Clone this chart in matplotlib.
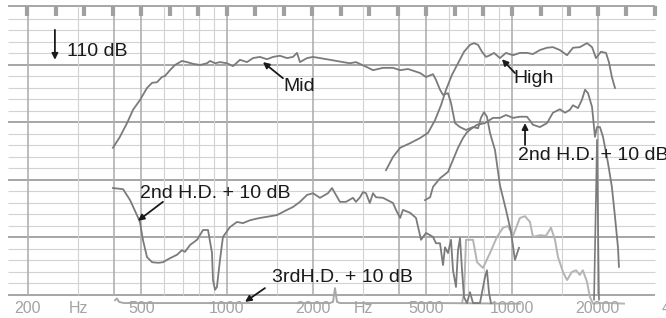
import numpy as np
import matplotlib.pyplot as plt

plt.rcParams['font.family'] = ['Liberation Sans', 'DejaVu Sans']

# --- response curves (Hz, dB) ---
mid_hz = [398, 421, 446, 468, 495, 524, 546, 568, 591, 606, 631, 657, 695, 724, 760,
          804, 851, 872, 908, 945, 1000, 1050, 1111, 1175, 1234, 1305, 1382, 1450, 1534,
          1624, 1704, 1761, 1803, 1909, 2003, 2119, 2297, 2553, 2699, 2835, 3074, 3253,
          3526, 3823, 4050, 4316, 4760, 4993, 5283, 5412, 5590, 5727, 5963, 6109, 6310,
          6570, 6897, 7298, 7602, 7780, 7975, 8168, 8370, 8716, 9070, 9526, 9919, 10240, 10580]
mid_db = [95.6, 97.5, 99.9, 102.2, 103.9, 106.0, 106.9, 107.0, 107.9, 108.1, 109.1, 110.0,
          110.7, 110.5, 110.2, 110.0, 110.3, 110.7, 110.3, 110.5, 110.3, 109.8, 110.9, 110.5,
          111.2, 111.4, 111.0, 111.4, 111.6, 111.2, 111.4, 112.1, 110.5, 111.2, 111.4, 111.2,
          110.9, 110.5, 110.3, 110.5, 109.7, 109.1, 109.5, 109.5, 109.1, 109.3, 108.6, 107.9,
          108.4, 107.4, 105.7, 104.8, 105.1, 103.4, 99.9, 99.2, 98.7, 99.2, 99.0, 100.8,
          101.8, 101.0, 98.2, 95.2, 89.1, 84.8, 81.0, 76.1, 78.2]

high_hz = [3613, 3823, 4050, 4390, 4760, 5074, 5369, 5635, 5870, 6158, 6465, 6787, 7120,
           7357, 7602, 7846, 8103, 8370, 8646, 9070, 9526, 10080, 10660, 11290, 11850, 12530,
           13270, 13920, 14720, 15600, 16370, 17300, 18330, 19090, 19550, 19700, 20520, 21370,
           21880, 22410, 22980]
high_db = [91.7, 94.0, 95.6, 96.4, 97.3, 98.2, 100.4, 103.0, 105.7, 108.3, 110.3, 112.3,
           113.5, 113.8, 113.5, 112.3, 111.4, 111.7, 112.1, 111.2, 112.1, 111.7, 112.1, 112.1,
           111.9, 112.6, 113.0, 113.1, 112.6, 111.7, 113.0, 113.1, 113.8, 113.1, 111.7, 111.2,
           112.3, 112.1, 110.5, 107.9, 106.0]

# 2nd harmonic distortion + 10 dB, mid driver
hd2_mid_hz = [398, 432, 457, 483, 495, 507, 524, 546, 573, 596, 631, 668, 695, 712, 742, 785,
              824, 858, 886, 893, 908, 922, 945, 968, 1024, 1084, 1138, 1204, 1305, 1382, 1498,
              1624, 1704, 1803, 1909, 2003, 2119, 2261, 2336, 2490, 2616, 2767, 2835, 2929,
              3000, 3074, 3170, 3253, 3333, 3526, 3823, 3917, 4050, 4145, 4390, 4605, 4795,
              4993, 5283, 5412, 5590, 5727, 5820, 5963, 6109, 6209, 6361, 6465, 6570, 6678,
              6787, 6953, 7120, 7298, 7720, 8038, 8168, 8300, 8437]
hd2_mid_db = [88.6, 88.4, 86.5, 83.9, 82.7, 79.6, 76.6, 75.7, 75.6, 75.7, 76.4, 77.0, 77.8,
              77.5, 78.7, 79.6, 81.3, 81.3, 77.3, 72.6, 70.9, 71.4, 76.1, 80.1, 81.8, 82.7,
              82.5, 83.0, 83.4, 83.6, 83.9, 84.8, 85.3, 86.2, 87.4, 87.7, 86.9, 87.7, 88.6,
              86.2, 86.2, 86.9, 86.2, 87.0, 87.9, 87.7, 86.0, 87.7, 87.0, 86.9, 86.0, 84.8,
              83.4, 84.8, 84.3, 83.4, 79.6, 80.8, 80.1, 79.0, 79.0, 75.2, 78.3, 77.3, 79.6,
              74.3, 71.4, 77.8, 79.9, 74.3, 69.6, 68.6, 70.5, 68.6, 68.6, 73.1, 74.3, 70.5, 68.6]

# 2nd harmonic distortion + 10 dB, tweeter
hd2_high_hz = [4950, 5160, 5283, 5590, 5963, 6209, 6465, 6732, 6953, 7236, 7541, 8038, 8577,
               9070, 9526, 10080, 10660, 11290, 11850, 12530, 13270, 13920, 14720, 15350,
               15960, 16370, 17040, 17580, 18040, 18480, 19090, 19550, 19870, 20350, 20860,
               21710, 22410, 22980, 23540, 23730]
hd2_high_db = [86.5, 87.0, 88.8, 90.3, 91.4, 93.5, 95.6, 97.3, 98.3, 99.0, 99.6, 99.9, 100.8,
               100.8, 101.3, 100.8, 101.0, 101.0, 99.6, 99.2, 99.9, 101.7, 102.3, 101.7, 102.2,
               103.0, 102.5, 103.9, 105.7, 105.1, 102.7, 97.5, 99.2, 99.2, 97.5, 93.0, 88.8,
               83.6, 78.3, 74.9]

# 3rd harmonic distortion + 10 dB, tweeter (light trace)
hd3_high_hz = [6678, 6787, 6897, 7298, 7541, 7910, 8370, 8857, 9299, 9681, 10080, 10660, 11110,
               11560, 11850, 12530, 13160, 13700, 14150, 14500, 15100, 15600, 16220, 16770,
               17300, 17720, 18330, 18750, 19240, 20350, 22050, 24710]
hd3_high_db = [68.6, 70.3, 79.6, 79.6, 75.7, 74.7, 77.3, 80.1, 81.7, 82.0, 80.3, 83.4, 83.7,
               82.7, 80.1, 80.4, 80.3, 81.7, 79.6, 76.6, 74.0, 72.6, 74.0, 74.3, 73.5, 74.3,
               72.3, 69.7, 68.5, 68.6, 68.6, 68.5]

# 3rd harmonic distortion + 10 dB, mid driver (sits on the floor)
hd3_mid_hz = [405, 411, 418, 435, 804, 2297, 2355, 2393, 2432, 2490, 5590, 9830, 10660]
hd3_mid_db = [69.1, 69.4, 68.8, 68.6, 68.6, 68.6, 68.8, 71.2, 68.8, 68.6, 68.6, 68.5, 68.5]

spike_hz = [19400, 19700, 19870, 20030, 20190]
spike_db = [69.2, 86.5, 97.0, 83.0, 69.2]

tick_hz = [200, 300, 500, 1000, 2000, 3000, 5000, 10000, 20000, 40000]
tick_labels = ['200', 'Hz', '500', '1000', '2000', 'Hz', '5000', '10000', '20000', '40000']

major_v = [200, 400, 500, 1000, 2000, 4000, 5000, 10000, 20000]
minor_v = [300, 600, 700, 800, 900, 1500, 3000, 6000, 7000, 8000, 9000, 15000]

fig = plt.figure(figsize=(6.66, 3.18), dpi=100)
ax = fig.add_axes([0, 0, 1, 1])
ax.set_xscale('log')
ax.set_xlim(159.8, 34700)
ax.set_ylim(66.0, 121.3)
ax.axis('off')

# chart paper
f_lo, f_hi = 171, 31700
minor_h = [d for d in range(72, 120, 2) if d % 10]
ax.hlines(minor_h, f_lo, f_hi, color='#d2d2d2', lw=0.8, zorder=1)
ax.hlines([70, 80, 90, 100, 110, 120.2], f_lo, f_hi, color='#a6a6a6', lw=1.4, zorder=1)
ax.vlines(minor_v, 70, 120.2, color='#d2d2d2', lw=0.8, zorder=1)
ax.vlines(major_v, 70, 120.2, color='#b0b0b0', lw=1.2, zorder=1)
ax.vlines(10 ** np.arange(2.3, 4.51, 0.1), 118.6, 120.2, color='#a0a0a0', lw=3, zorder=1)

for hz, lab in zip(tick_hz, tick_labels):
    ax.text(hz, 67.7, lab, ha='center', va='center', fontsize=11.5, color='#a3a3a3')

# traces
dark = '#7b7b7b'
ax.plot(mid_hz, mid_db, color=dark, lw=1.3, zorder=3)
ax.plot(high_hz, high_db, color=dark, lw=1.3, zorder=3)
ax.plot(hd2_mid_hz, hd2_mid_db, color=dark, lw=1.3, zorder=3)
ax.plot(hd2_high_hz, hd2_high_db, color=dark, lw=1.3, zorder=3)
ax.plot(spike_hz, spike_db, color=dark, lw=1.2, zorder=3)
ax.plot(hd3_high_hz, hd3_high_db, color='#b4b4b4', lw=1.4, zorder=2)
ax.plot(hd3_mid_hz, hd3_mid_db, color='#a8a8a8', lw=1.4, zorder=2)

# annotations
arr = dict(arrowstyle='-|>', color='#1a1a1a', lw=1.3, mutation_scale=9, shrinkA=0, shrinkB=0)
txt = dict(fontsize=14, color='#1a1a1a', va='center')
ax.annotate('', xy=(249, 110.9), xytext=(249, 116.1), arrowprops=arr)
ax.text(275, 112.3, '110 dB', **txt)
ax.annotate('', xy=(1337, 110.5), xytext=(1572, 107.7), arrowprops=arr)
ax.text(1572, 106.2, 'Mid', **txt)
ax.annotate('', xy=(9220, 111.0), xytext=(10240, 108.6), arrowprops=arr)
ax.text(10080, 107.7, 'High', **txt)
ax.annotate('', xy=(11110, 99.9), xytext=(11110, 96.1), arrowprops=arr)
ax.text(10500, 94.2, '2nd H.D. + 10 dB', **txt)
ax.annotate('', xy=(487, 82.9), xytext=(596, 86.2), arrowprops=arr)
ax.text(495, 87.7, '2nd H.D. + 10 dB', **txt)
ax.annotate('', xy=(1157, 68.8), xytext=(1359, 71.2), arrowprops=arr)
ax.text(1439, 73.0, '3rdH.D. + 10 dB', **txt)

fig.savefig('out.png', dpi=100, facecolor='white')
